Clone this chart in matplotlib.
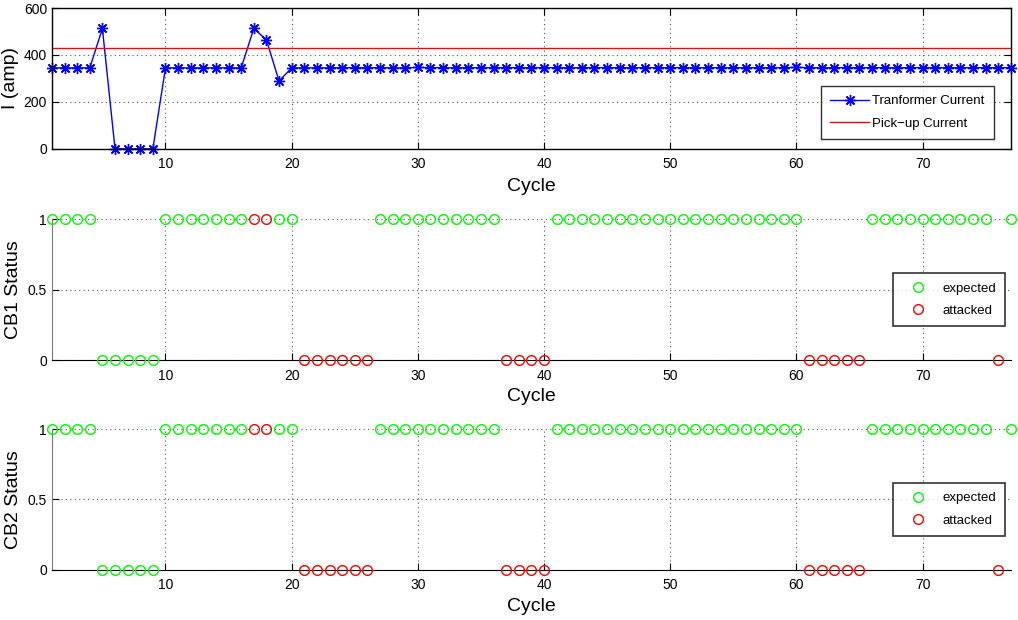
import matplotlib
matplotlib.use('Agg')
import matplotlib.pyplot as plt

plt.rcParams['font.family'] = ['Liberation Sans', 'DejaVu Sans']

# Cycle numbers
cycles = list(range(1, 78))

# Transformer current per cycle (amp)
current = [345, 345, 345, 345, 513, 0, 0, 0, 0, 345,
           345, 345, 345, 345, 345, 345, 513, 464, 289, 345,
           345, 345, 345, 346, 346, 345, 346, 345, 345, 347,
           346, 346, 345, 346, 346, 346, 346, 346, 346, 346,
           346, 345, 346, 346, 346, 346, 345, 346, 346, 346,
           346, 345, 346, 346, 346, 345, 346, 346, 346, 347,
           346, 345, 346, 346, 346, 346, 346, 345, 346, 346,
           346, 346, 345, 346, 346, 346, 346]
pickup = 430

# Breaker status per cycle, and whether that cycle was attacked
cb_status = [1, 1, 1, 1, 0, 0, 0, 0, 0, 1,
             1, 1, 1, 1, 1, 1, 1, 1, 1, 1,
             0, 0, 0, 0, 0, 0, 1, 1, 1, 1,
             1, 1, 1, 1, 1, 1, 0, 0, 0, 0,
             1, 1, 1, 1, 1, 1, 1, 1, 1, 1,
             1, 1, 1, 1, 1, 1, 1, 1, 1, 1,
             0, 0, 0, 0, 0, 1, 1, 1, 1, 1,
             1, 1, 1, 1, 1, 0, 1]
attacked_cycles = [17, 18, 21, 22, 23, 24, 25, 26, 37, 38, 39, 40,
                   61, 62, 63, 64, 65, 76]

cb_names = ['CB1 Status', 'CB2 Status']
xticks = [10, 20, 30, 40, 50, 60, 70]

fig = plt.figure(figsize=(10.18, 6.2), dpi=100)

grid_kw = dict(color='#555555', linestyle=(0, (1, 3)), linewidth=0.8)

# --- current panel
ax = fig.add_axes([0.051, 0.760, 0.942, 0.227])
ax.plot(cycles, current, color='#0000ff', marker=(8, 2, 0), markersize=8,
        markeredgewidth=1, linewidth=1, label='Tranformer Current',
        clip_on=False)
ax.axhline(pickup, color='#ff0000', linewidth=1, label='Pick\u2212up Current')
ax.set_xlim(1, 77)
ax.set_ylim(0, 600)
ax.set_xticks(xticks)
ax.set_yticks([0, 200, 400, 600])
ax.grid(True, **grid_kw)
ax.tick_params(direction='in', top=True, right=True, labelsize=10, length=5)
ax.tick_params(axis='x', pad=6)
ax.set_xlabel('Cycle', fontsize=14, labelpad=5)
ax.set_ylabel('I (amp)', fontsize=14)
ax.yaxis.set_label_coords(-0.034, 0.5)
for s in ax.spines.values():
    s.set_linewidth(1)
leg = ax.legend(loc='lower right', bbox_to_anchor=(0.982, 0.071),
                borderaxespad=0, fontsize=9.5, frameon=True, fancybox=False,
                edgecolor='black', handlelength=2.9, handletextpad=0.25,
                borderpad=0.7, labelspacing=0.75)
leg.get_frame().set_linewidth(1)

# --- status panels
bottoms = [0.419, 0.081]
for name, b in zip(cb_names, bottoms):
    ax = fig.add_axes([0.051, b, 0.942, 0.227])
    exp_x = [c for c in cycles if c not in attacked_cycles]
    exp_y = [cb_status[c - 1] for c in exp_x]
    att_y = [cb_status[c - 1] for c in attacked_cycles]
    ax.plot(exp_x, exp_y, linestyle='none', marker='o', markersize=7,
            markerfacecolor='none', markeredgecolor='#00ff00',
            markeredgewidth=1, label='expected', clip_on=False, zorder=3)
    ax.plot(attacked_cycles, att_y, linestyle='none', marker='o', markersize=7,
            markerfacecolor='none', markeredgecolor='#ff0000',
            markeredgewidth=1, label='attacked', clip_on=False, zorder=3)
    ax.set_xlim(1, 77)
    ax.set_ylim(0, 1)
    ax.set_xticks(xticks)
    ax.set_yticks([0, 0.5, 1])
    ax.set_yticklabels(['0', '0.5', '1'])
    ax.grid(True, **grid_kw)
    ax.spines['top'].set_visible(False)
    ax.spines['right'].set_visible(False)
    ax.spines['left'].set_color('#777777')
    ax.spines['bottom'].set_color('black')
    ax.tick_params(direction='in', labelsize=10, length=5)
    ax.tick_params(axis='x', pad=6)
    ax.set_xlabel('Cycle', fontsize=14, labelpad=4)
    ax.set_ylabel(name, fontsize=14)
    ax.yaxis.set_label_coords(-0.031, 0.5)
    leg = ax.legend(loc='lower right', bbox_to_anchor=(0.994, 0.241),
                    borderaxespad=0, fontsize=9.5, frameon=True,
                    fancybox=False, edgecolor='black', handlelength=2.3,
                    handletextpad=0.7, borderpad=0.7, labelspacing=0.75)
    leg.get_frame().set_linewidth(1.2)

fig.savefig('out.png', dpi=100)
